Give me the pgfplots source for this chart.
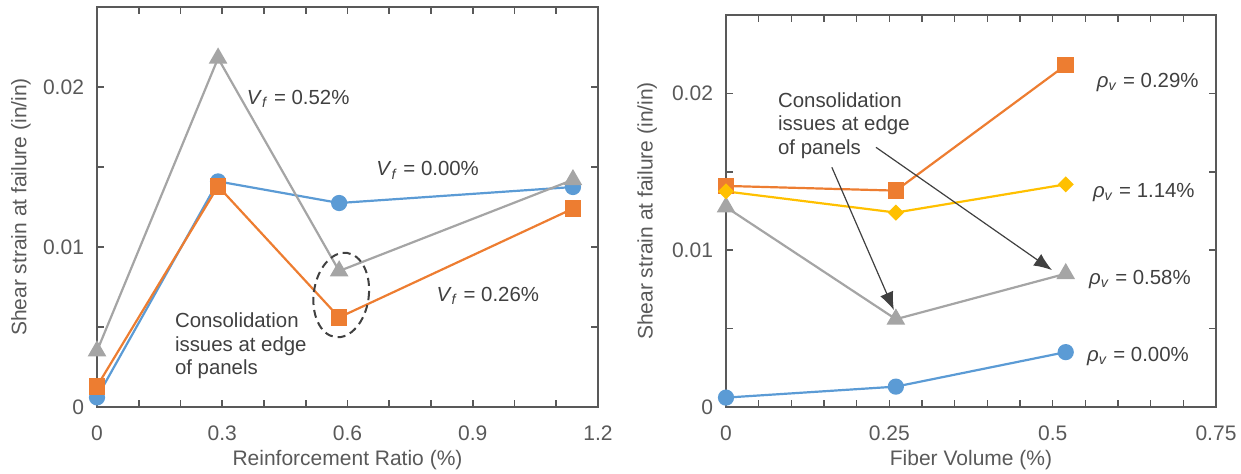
\documentclass[border=0pt]{standalone}
\usepackage{pgfplots}
\pgfplotsset{compat=1.18}
\usetikzlibrary{arrows.meta}
\usepackage{fontspec}
\setmainfont{Liberation Sans}
\definecolor{cblue}{HTML}{5B9BD5}
\definecolor{corange}{HTML}{ED7D31}
\definecolor{cgray}{HTML}{A5A5A5}
\definecolor{cyellow}{HTML}{FFC000}
\definecolor{axgray}{HTML}{595959}
\definecolor{txtgray}{HTML}{404040}
\tikzset{ann/.style={font=\fontsize{10.2}{11.75}\selectfont, text=txtgray}}
\pgfplotsset{
  myaxis/.style={
    scale only axis,
    anchor=south west,
    axis line style={axgray, line width=0.9pt},
    tick style={axgray, line width=0.8pt},
    tick align=inside,
    major tick length=3.5pt,
    minor tick length=3.5pt,
    ymin=0, ymax=0.025,
    ytick={0,0.01,0.02},
    minor ytick={0.005,0.015},
    scaled y ticks=false,
    scaled x ticks=false,
    /pgf/number format/assume math mode=true,
    yticklabel style={/pgf/number format/fixed, /pgf/number format/precision=3, xshift=-3pt},
    xticklabel style={/pgf/number format/fixed, /pgf/number format/precision=2, yshift=-6pt},
    tick label style={font=\fontsize{10.5}{12}\selectfont, text=axgray},
    label style={font=\fontsize{10.5}{12}\selectfont, text=axgray},
    xlabel style={at={(axis description cs:0.5,0)}, anchor=center, yshift=-26.5pt},
    ylabel={Shear strain at failure (in/in)},
  },
  ser/.style={line width=1.1pt, mark options={solid}},
}
\begin{document}
\begin{tikzpicture}
\useasboundingbox (0,0) rectangle (620.5pt,236.5pt);
% Left panel
\begin{axis}[myaxis,
  at={(48.5pt,33pt)}, width=250.5pt, height=200pt,
  xmin=0, xmax=1.2,
  xtick={0,0.3,0.6,0.9,1.2},
  minor x tick num=2,
  xlabel={Reinforcement Ratio (\%)},
  ylabel style={at={(axis description cs:-0.152,0.5)}, anchor=center},
]
\addplot[ser, cblue, mark=*, mark size=3.5pt] coordinates {(0,0.0006) (0.29,0.0141) (0.58,0.01275) (1.14,0.01375)};
\addplot[ser, corange, mark=square*, mark size=3.6pt] coordinates {(0,0.0013) (0.29,0.0138) (0.58,0.0056) (1.14,0.0124)};
\addplot[ser, cgray, mark=triangle*, mark size=4.3pt] coordinates {(0,0.0035) (0.29,0.0218) (0.58,0.0085) (1.14,0.0142)};
\node[ann] at (axis cs:0.482,0.01925) {\textit{V}\textsubscript{\textit{f}} = 0.52\%};
\node[ann] at (axis cs:0.792,0.0148) {\textit{V}\textsubscript{\textit{f}} = 0.00\%};
\node[ann] at (axis cs:0.936,0.00694) {\textit{V}\textsubscript{\textit{f}} = 0.26\%};
\node[ann, anchor=west, align=left] at (axis cs:0.170,0.0038) {Consolidation\\issues at edge\\of panels};
\draw[txtgray, line width=1pt, dash pattern=on 4pt off 2.5pt, rotate around={-8:(axis cs:0.585,0.0070)}] (axis cs:0.585,0.0070) ellipse [x radius=13.75pt, y radius=21.25pt];
\end{axis}
% Right panel
\begin{axis}[myaxis,
  at={(363pt,33pt)}, width=245pt, height=196pt,
  xmin=0, xmax=0.75,
  xtick={0,0.25,0.5,0.75},
  minor x tick num=4,
  xlabel={Fiber Volume (\%)},
  ylabel style={at={(axis description cs:-0.161,0.5)}, anchor=center},
]
\addplot[ser, cblue, mark=*, mark size=3.5pt] coordinates {(0,0.0006) (0.26,0.0013) (0.52,0.0035)};
\addplot[ser, corange, mark=square*, mark size=3.6pt] coordinates {(0,0.0141) (0.26,0.0138) (0.52,0.0218)};
\addplot[ser, cgray, mark=triangle*, mark size=4.3pt] coordinates {(0,0.01275) (0.26,0.0056) (0.52,0.0085)};
\addplot[ser, cyellow, mark=square*, mark size=2.3pt, mark options={rotate=45}] coordinates {(0,0.01375) (0.26,0.0124) (0.52,0.0142)};
\node[ann, anchor=west] at (axis cs:0.557,0.0207) {\textit{ρ}\textsubscript{\textit{v}} = 0.29\%};
\node[ann, anchor=west] at (axis cs:0.551,0.0137) {\textit{ρ}\textsubscript{\textit{v}} = 1.14\%};
\node[ann, anchor=west] at (axis cs:0.545,0.00812) {\textit{ρ}\textsubscript{\textit{v}} = 0.58\%};
\node[ann, anchor=west] at (axis cs:0.542,0.00325) {\textit{ρ}\textsubscript{\textit{v}} = 0.00\%};
\node[ann, anchor=west, align=left] at (axis cs:0.0689,0.01796) {Consolidation\\issues at edge\\of panels};
\draw[-{Latex[length=9pt,width=7pt]}, txtgray, line width=0.6pt] (axis cs:0.162,0.01529) -- (axis cs:0.257,0.00618);
\draw[-{Latex[length=9pt,width=7pt]}, txtgray, line width=0.6pt] (axis cs:0.2296,0.01656) -- (axis cs:0.499,0.00873);
\end{axis}
\end{tikzpicture}
\end{document}
